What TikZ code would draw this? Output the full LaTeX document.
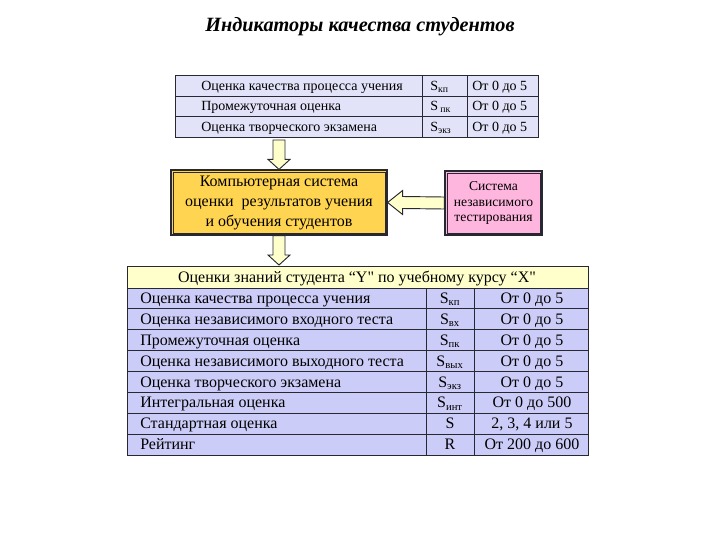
\documentclass[tikz,border=0pt]{standalone}
\usepackage{fontspec}
\setmainfont{Liberation Serif}
\usetikzlibrary{calc}
\definecolor{toplav}{RGB}{226,226,248}
\definecolor{rowlav}{RGB}{204,204,248}
\definecolor{hdryel}{RGB}{255,255,204}
\definecolor{boxgold}{RGB}{255,212,80}
\definecolor{boxpink}{RGB}{255,182,222}
\definecolor{arrfill}{RGB}{255,255,204}
\definecolor{lineclr}{RGB}{40,40,50}
\tikzset{
  gridline/.style={draw=lineclr, line width=0.7pt},
  toptext/.style={font=\fontsize{10.5}{12}\selectfont, inner sep=0pt, anchor=base west},
  bottext/.style={font=\fontsize{12}{13}\selectfont, inner sep=0pt, anchor=base},
  blockarrow/.style={draw=lineclr, line width=0.7pt, fill=arrfill, line join=miter},
  bigbox/.style={draw=lineclr, line width=0.9pt, align=center, inner sep=2pt},
  innerframe/.style={draw=lineclr, line width=0.5pt},
  titletext/.style={font=\fontsize{15.2}{18}\selectfont\bfseries\itshape}
}
\newcommand\vblockarrow[2]{%
  \draw[blockarrow] ($(#1)+(-6,0)$) -- ($(#2)+(-6,-10)$) -- ($(#2)+(-11,-10)$) -- (#2)
    -- ($(#2)+(11,-10)$) -- ($(#2)+(6,-10)$) -- ($(#1)+(6,0)$) -- cycle;}
\newcommand\hblockarrow[2]{%
  \draw[blockarrow] ($(#1)+(0,-6)$) -- ($(#2)+(15,-6)$) -- ($(#2)+(15,-12)$) -- (#2)
    -- ($(#2)+(15,12)$) -- ($(#2)+(15,6)$) -- ($(#1)+(0,6)$) -- cycle;}
\begin{document}
\begin{tikzpicture}[x=0.75pt,y=-0.75pt]
\useasboundingbox (0,0) rectangle (720,540);
% title
\node[titletext] (title) at (360,27) {Индикаторы качества студентов};
% top table
\path[gridline, fill=toplav] (175,75) rectangle (538,137);
\draw[gridline] (175,96) -- (538,96) (175,116) -- (538,116)
  (422,75) -- (422,137) (467,75) -- (467,137);
\node[toptext] (t1a) at (201,90.5) {Оценка качества процесса учения};
\node[toptext] (t2a) at (201,110) {Промежуточная оценка};
\node[toptext] (t3a) at (201,131) {Оценка творческого экзамена};
\node[toptext] (t1b) at (430,90.5) {S\textsubscript{кп}};
\node[toptext] (t2b) at (430,110) {S\,\textsubscript{пк}};
\node[toptext] (t3b) at (430,131) {S\textsubscript{экз}};
\node[toptext] (t1c) at (472,90.5) {От 0 до 5};
\node[toptext] (t2c) at (472,110) {От 0 до 5};
\node[toptext] (t3c) at (472,131) {От 0 до 5};
\coordinate (ttb) at (279,140);
% boxes
\node[bigbox, fill=boxgold, minimum width=162pt, minimum height=48.75pt,
  font=\fontsize{12}{15}\selectfont] (ybox) at (279,202.5)
  {Компьютерная система\\оценки\ \ результатов учения\\и обучения студентов};
\draw[innerframe] ($(ybox.north west)+(2.5,2.5)$) rectangle ($(ybox.south east)+(-2.5,-2.5)$);
\node[bigbox, fill=boxpink, minimum width=72.75pt, minimum height=48pt,
  font=\fontsize{10.2}{11.6}\selectfont] (pbox) at (493.5,203)
  {Система\\независимого\\тестирования};
\draw[innerframe] ($(pbox.north west)+(2.5,2.5)$) rectangle ($(pbox.south east)+(-2.5,-2.5)$);
% arrows
\vblockarrow{ttb}{ybox.north}
\hblockarrow{pbox.west}{ybox.east}
\coordinate (btop) at (279,265);
\vblockarrow{ybox.south}{btop}
% bottom table
\path[gridline, fill=hdryel] (127,266) rectangle (588,288);
\path[gridline, fill=rowlav] (127,288) rectangle (588,455);
\foreach \yy in {308.9,329.8,350.6,371.5,392.4,413.3,434.1} {\draw[gridline] (127,\yy) -- (588,\yy);}
\draw[gridline] (426,288) -- (426,455) (474,288) -- (474,455);
\node[bottext] (hdr) at (357,282) {Оценки знаний студента “Y\textquotedbl{} по учебному курсу “X\textquotedbl};
\foreach \n/\yy/\a/\b/\c in {
  r1/303.5/Оценка качества процесса учения/S\textsubscript{кп}/От 0 до 5,
  r2/324.4/Оценка независимого входного теста/S\textsubscript{вх}/От 0 до 5,
  r3/345.3/Промежуточная оценка/S\textsubscript{пк}/От 0 до 5,
  r4/366.2/Оценка независимого выходного теста/S\textsubscript{вых}/От 0 до 5,
  r5/387/Оценка творческого экзамена/S\textsubscript{экз}/От 0 до 5,
  r6/407.9/Интегральная оценка/S\textsubscript{инт}/От 0 до 500,
  r7/428.8/Стандартная оценка/S/{2, 3, 4 или 5},
  r8/449.6/Рейтинг/R/От 200 до 600} {
  \node[bottext, anchor=base west] (\n a) at (140,\yy) {\a};
  \node[bottext] (\n b) at (450,\yy) {\b};
  \node[bottext] (\n c) at (532,\yy) {\c};
}
\end{tikzpicture}
\end{document}
